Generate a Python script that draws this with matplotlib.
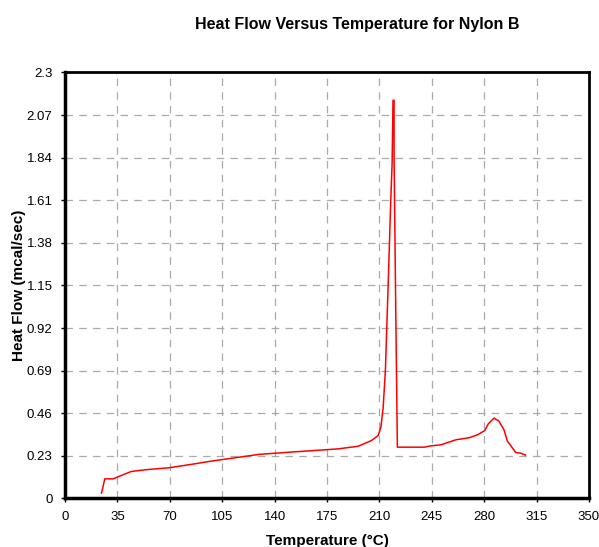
import matplotlib.pyplot as plt
import numpy as np

plt.rcParams['font.family'] = ['Liberation Sans', 'DejaVu Sans']

# Temperature (°C) and heat flow (mcal/sec)
temperature = [24.4, 26.6, 32.1, 44.3, 55.0, 69.7, 85.0, 96.3, 112.0, 129.5, 150.0,
               165.0, 182.6, 195.9, 204.7, 209.2, 211.0, 212.5, 214.0, 215.8, 217.6,
               218.5, 219.1, 219.8, 219.8, 220.7, 222.0, 240.2, 243.5, 251.2, 261.2,
               270.0, 275.6, 280.4, 282.7, 286.6, 289.9, 293.2, 295.5, 297.7, 301.0,
               304.3, 307.6]
heat_flow = [0.029, 0.106, 0.106, 0.146, 0.156, 0.166, 0.185, 0.200, 0.218, 0.238, 0.250,
             0.258, 0.268, 0.282, 0.313, 0.340, 0.385, 0.49, 0.69, 1.14, 1.61,
             1.81, 2.15, 2.15, 1.84, 1.18, 0.277, 0.277, 0.283, 0.290, 0.317,
             0.328, 0.344, 0.367, 0.403, 0.434, 0.417, 0.371, 0.309, 0.286, 0.248,
             0.245, 0.234]

x_ticks = [0, 35, 70, 105, 140, 175, 210, 245, 280, 315, 350]
y_ticks = [0, 0.23, 0.46, 0.69, 0.92, 1.15, 1.38, 1.61, 1.84, 2.07, 2.3]
y_tick_labels = ['0', '0.23', '0.46', '0.69', '0.92', '1.15', '1.38', '1.61', '1.84', '2.07', '2.3']

fig = plt.figure(figsize=(5.99, 5.47), dpi=100)
fig.patch.set_facecolor('white')
ax = fig.add_axes([0.1085, 0.0887, 0.8748, 0.7788])

ax.plot(temperature, heat_flow, color='#FF0000', linewidth=1.1)

ax.set_xlim(0, 350)
ax.set_ylim(0, 2.3)
ax.set_xticks(x_ticks)
ax.set_yticks(y_ticks)
ax.set_yticklabels(y_tick_labels)
ax.tick_params(axis='both', labelsize=9.5, length=3, width=1, colors='black', pad=6)

ax.grid(True, color='#AAAAAA', linestyle=(0, (6, 5)), linewidth=0.9)

for side in ['left', 'bottom']:
    ax.spines[side].set_linewidth(2.5)
for side in ['top', 'right']:
    ax.spines[side].set_linewidth(2.0)

ax.set_xlabel('Temperature (°C)', fontsize=11, fontweight='bold', labelpad=8)
ax.set_ylabel('Heat Flow (mcal/sec)', fontsize=11, fontweight='bold', labelpad=0)

fig.text(357 / 599, 1 - 25 / 547, 'Heat Flow Versus Temperature for Nylon B',
         ha='center', va='center', fontsize=11.5, fontweight='bold')

fig.savefig('out.png', dpi=100, facecolor='white')
